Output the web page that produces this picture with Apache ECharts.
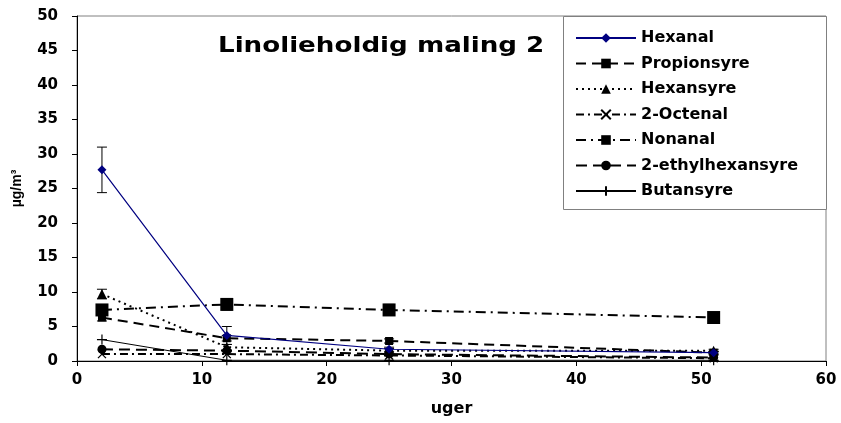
<!DOCTYPE html>
<html>
<head>
<meta charset="utf-8">
<script src="https://cdn.jsdelivr.net/npm/echarts@6/dist/echarts.min.js"></script>
<style>
  html, body { margin: 0; padding: 0; background: #fff; }
  #chart { width: 841px; height: 423px; }
</style>
</head>
<body>
<div id="chart"></div>
<script>
// Sampling times (weeks)
const weeks = [2, 12, 25, 51];

// Concentrations in µg/m³ per compound
const hexanal      = [27.7, 3.7, 1.7, 1.2];
const propionsyre  = [6.3, 3.3, 2.9, 1.2];
const hexansyre    = [9.7, 2.0, 1.5, 1.5];
const octenal      = [1.0, 1.0, 0.8, 0.4];
const nonanal      = [7.4, 8.2, 7.4, 6.3];
const ethylhexan   = [1.7, 1.5, 1.0, 0.5];
const butansyre    = [3.1, 0.1, 0.1, 0.1];

// Standard deviations (half-length of error bars)
const hexanalErr     = [3.3, 1.3, 0.3, 0.2];
const propionsyreErr = [0.5, 0.4, 0.3, 0.2];
const hexansyreErr   = [0.7, 0.4, 0.3, 0.2];
const nonanalErr     = [0.4, 0.8, 0.8, 0.3];

const yTicks = { min: 0, max: 50, interval: 5 };
const xTicks = { min: 0, max: 60, interval: 10 };

const TITLE = 'Linolieholdig maling 2';
const FONT = '"DejaVu Sans"';
const FONT_NARROW = '"Liberation Sans"';
const pairs = arr => weeks.map((w, i) => [w, arr[i]]);

function errorSeries(name, vals, errs, color) {
  return {
    type: 'custom',
    name: name,
    z: 3,
    silent: true,
    data: weeks.map((w, i) => [w, vals[i] - errs[i], vals[i] + errs[i]]),
    renderItem: function (params, api) {
      const lo = api.coord([api.value(0), api.value(1)]);
      const hi = api.coord([api.value(0), api.value(2)]);
      const cap = 5;
      const st = { stroke: color, lineWidth: 1 };
      return {
        type: 'group',
        children: [
          { type: 'line', shape: { x1: lo[0], y1: lo[1], x2: hi[0], y2: hi[1] }, style: st },
          { type: 'line', shape: { x1: lo[0] - cap, y1: lo[1], x2: lo[0] + cap, y2: lo[1] }, style: st },
          { type: 'line', shape: { x1: hi[0] - cap, y1: hi[1], x2: hi[0] + cap, y2: hi[1] }, style: st }
        ]
      };
    }
  };
}

const crossPath = 'path://M0,0L10,10M10,0L0,10';
const plusPath  = 'path://M5,0L5,10M0,5L10,5';

const tickLabel = { fontFamily: FONT, fontWeight: 'bold', fontSize: 15, color: '#000' };

const chart = echarts.init(document.getElementById('chart'), null, { renderer: 'canvas' });

chart.setOption({
  animation: false,
  backgroundColor: '#ffffff',
  graphic: [
    {
      // legend frame
      type: 'rect',
      z: 1,
      shape: { x: 563.5, y: 16.5, width: 263, height: 193 },
      style: { fill: '#fff', stroke: '#808080', lineWidth: 1 }
    },
    {
      // chart title, drawn slightly widened
      type: 'text',
      z: 5,
      x: 218,
      y: 47,
      scaleX: 1.245,
      style: {
        text: TITLE,
        font: 'bold 21px ' + FONT,
        fill: '#000',
        align: 'left',
        verticalAlign: 'middle'
      }
    }
  ],
  legend: {
    orient: 'vertical',
    left: 575,
    top: 30,
    padding: 0,
    z: 6,
    itemWidth: 60,
    itemHeight: 12,
    itemGap: 9.5,
    data: ['Hexanal', 'Propionsyre', 'Hexansyre', '2-Octenal', 'Nonanal', '2-ethylhexansyre', 'Butansyre'],
    textStyle: { fontFamily: FONT, fontWeight: 'bold', fontSize: 16, color: '#000' }
  },
  grid: {
    left: 77, right: 15, top: 16, bottom: 62,
    show: true, borderColor: '#808080', borderWidth: 1, backgroundColor: '#fff'
  },
  xAxis: {
    type: 'value',
    min: xTicks.min, max: xTicks.max, interval: xTicks.interval,
    name: 'uger',
    nameLocation: 'middle',
    nameGap: 40,
    nameTextStyle: { fontFamily: FONT, fontWeight: 'bold', fontSize: 16, color: '#000' },
    axisLine: { show: true, lineStyle: { color: '#000', width: 1 } },
    axisTick: { show: true, length: 5, lineStyle: { color: '#000' } },
    axisLabel: Object.assign({ margin: 12 }, tickLabel),
    splitLine: { show: false }
  },
  yAxis: {
    type: 'value',
    min: yTicks.min, max: yTicks.max, interval: yTicks.interval,
    name: 'µg/m³',
    nameLocation: 'middle',
    nameGap: 53,
    nameRotate: 90,
    nameTextStyle: { fontFamily: FONT_NARROW, fontWeight: 'bold', fontSize: 14, color: '#000' },
    axisLine: { show: true, lineStyle: { color: '#000', width: 1 } },
    axisTick: { show: true, length: 5, lineStyle: { color: '#000' } },
    axisLabel: Object.assign({ margin: 19 }, tickLabel),
    splitLine: { show: false }
  },
  series: [
    {
      name: 'Hexanal', type: 'line', data: pairs(hexanal),
      symbol: 'diamond', symbolSize: 9,
      lineStyle: { color: '#000080', width: 1.2, type: 'solid' },
      itemStyle: { color: '#000080' }, z: 5
    },
    {
      name: 'Propionsyre', type: 'line', data: pairs(propionsyre),
      symbol: 'rect', symbolSize: 8,
      lineStyle: { color: '#000', width: 2, type: [10, 6] },
      itemStyle: { color: '#000' }, z: 4
    },
    {
      name: 'Hexansyre', type: 'line', data: pairs(hexansyre),
      symbol: 'triangle', symbolSize: 10,
      lineStyle: { color: '#000', width: 2, type: [2, 4] },
      itemStyle: { color: '#000' }, z: 4
    },
    {
      name: '2-Octenal', type: 'line', data: pairs(octenal),
      symbol: crossPath, symbolSize: 8,
      lineStyle: { color: '#000', width: 2, type: [8, 4, 2, 4] },
      itemStyle: { color: 'none', borderColor: '#000', borderWidth: 1.3 }, z: 4
    },
    {
      name: 'Nonanal', type: 'line', data: pairs(nonanal),
      symbol: 'rect', symbolSize: 13,
      lineStyle: { color: '#000', width: 2, type: [10, 5, 2, 5] },
      itemStyle: { color: '#000' }, z: 4
    },
    {
      name: '2-ethylhexansyre', type: 'line', data: pairs(ethylhexan),
      symbol: 'circle', symbolSize: 9,
      lineStyle: { color: '#000', width: 2, type: [11, 6] },
      itemStyle: { color: '#000' }, z: 4
    },
    {
      name: 'Butansyre', type: 'line', data: pairs(butansyre),
      symbol: plusPath, symbolSize: 10,
      lineStyle: { color: '#000', width: 1, type: 'solid' },
      itemStyle: { color: 'none', borderColor: '#000', borderWidth: 1.2 }, z: 4
    },
    errorSeries('Hexanal', hexanal, hexanalErr, '#000'),
    errorSeries('Propionsyre', propionsyre, propionsyreErr, '#000'),
    errorSeries('Hexansyre', hexansyre, hexansyreErr, '#000'),
    errorSeries('Nonanal', nonanal, nonanalErr, '#000')
  ]
});
</script>
</body>
</html>
